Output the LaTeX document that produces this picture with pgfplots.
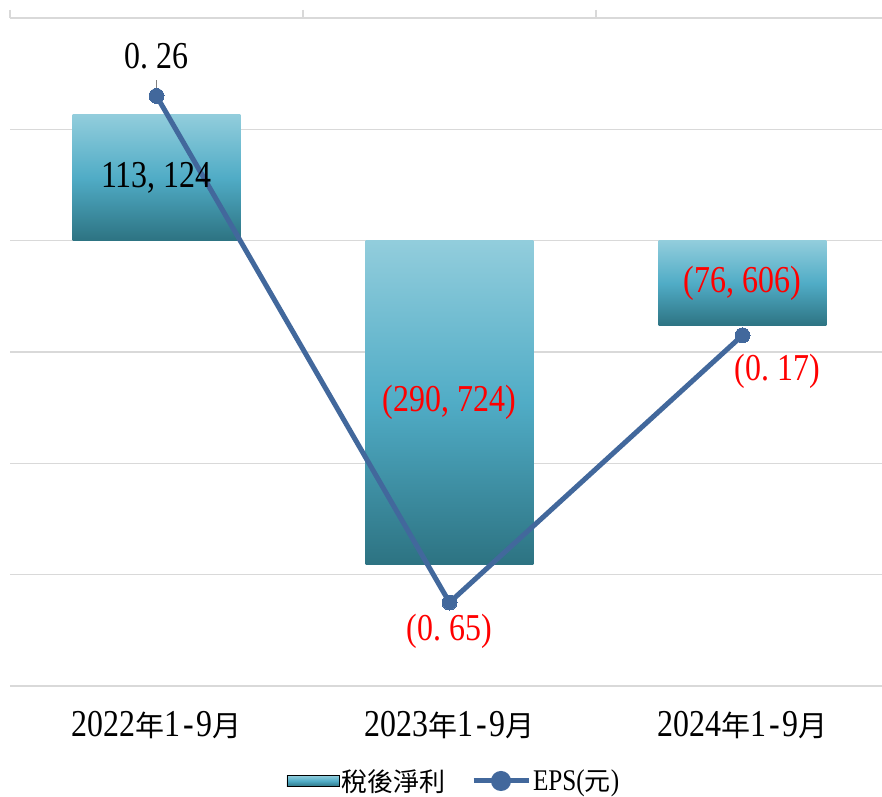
\documentclass[border=0pt]{standalone}
\usepackage{fontspec}
\setmainfont{Liberation Serif}[FakeStretch=0.84]
\newfontfamily\cjk{Noto Sans CJK TC}
\usepackage{pgfplots}
\pgfplotsset{compat=1.18}
\definecolor{barTop}{RGB}{146,205,220}
\definecolor{barMid}{RGB}{80,172,198}
\definecolor{barBot}{RGB}{45,115,130}
\definecolor{epsline}{RGB}{66,104,156}
\definecolor{gridc}{RGB}{217,217,217}
\newcommand{\lbl}{\fontsize{38}{42}\selectfont}
\newcommand{\hc}[1]{\makebox[16pt][l]{#1}}
\newcommand{\lp}{\makebox[16pt][r]{(}}
\newcommand{\rp}{\makebox[16pt][l]{)}}
\newcommand{\cat}[1]{#1{\fontsize{29}{32}\cjk 年}1\makebox[16pt]{-}9{\fontsize{29}{32}\cjk 月}}
\pgfplotsset{barsty/.style={ybar, bar shift=0pt, bar width=0.573, draw=none,
  top color=barTop, bottom color=barBot, middle color=barMid}}
\begin{document}
\begin{tikzpicture}[x=1pt,y=1pt]
\begin{axis}[
  at={(10pt,110pt)}, anchor=south west,
  width=879pt, height=668pt, scale only axis,
  xmin=-0.5, xmax=2.5, ymin=-400000, ymax=200000,
  ytick={-400000,-300000,-200000,-100000,0,100000,200000},
  yticklabels={}, ymajorgrids,
  grid style={gridc, line width=1.5pt},
  y tick style={draw=none},
  axis line style={draw=none},
  xtick={-0.5,0.5,1.5,2.5}, xticklabels={},
  xtick pos=right, xticklabel pos=left, tick align=outside, major tick length=8pt,
  x tick style={gridc, line width=1.5pt},
  clip=false,
]
\addplot[barsty] coordinates {(0,113124)};
\addplot[barsty] coordinates {(1,-290724)};
\addplot[barsty] coordinates {(2,-76606)};
\end{axis}
\begin{axis}[
  at={(10pt,110pt)}, anchor=south west,
  width=879pt, height=668pt, scale only axis,
  xmin=-0.5, xmax=2.5, ymin=-0.8, ymax=0.4,
  ytick=\empty, axis line style={draw=none},
  xtick={0,1,2},
  xticklabels={\cat{2022},\cat{2023},\cat{2024}},
  major tick length=0pt,
  xticklabel style={font=\lbl, anchor=center, yshift=-39pt},
  clip=false,
  legend columns=2,
  legend cell align=left,
  legend style={draw=none, fill=none, at={(0.505,-0.1422)}, anchor=center,
    font=\fontsize{30}{30}\selectfont,
    nodes={inner ysep=1pt},
    /tikz/every even column/.append style={column sep=24pt}},
]
\addlegendimage{legend image code/.code={
  \fill[top color=barTop, bottom color=barBot, middle color=barMid] (0pt,-5.5pt) rectangle (52pt,5.5pt);}}
\addlegendentry{{\fontsize{26}{28}\cjk 稅後淨利}}
\draw[gray, line width=1pt] (axis cs:0,0.262) -- (axis cs:0,0.288);
\addplot[epsline, line width=5pt, mark=*, mark size=7.5pt,
  mark options={fill=epsline, draw=epsline, line width=0pt},
  legend image code/.code={
    \draw[epsline, line width=5pt] (0pt,0pt) -- (55pt,0pt);
    \fill[epsline] (27.5pt,0pt) circle (7.5pt);}]
  coordinates {(0,0.26) (1,-0.65) (2,-0.17)};
\addlegendentry{EPS({\fontsize{26}{28}\cjk 元})}
\node[font=\lbl] at (axis cs:0,0.1131) {113\hc{,}124};
\node[font=\lbl, text=red] at (axis cs:1,-0.2907) {\lp 290\hc{,}724\rp};
\node[font=\lbl, text=red] at (axis cs:2,-0.0766) {\lp 76\hc{,}606\rp};
\node[font=\lbl] at (axis cs:0,0.3306) {0\hc{.}26};
\node[font=\lbl, text=red] at (axis cs:1,-0.7026) {\lp 0\hc{.}65\rp};
\node[font=\lbl, text=red] at (axis cs:2.118,-0.2354) {\lp 0\hc{.}17\rp};
\end{axis}
\pgfresetboundingbox
\path[use as bounding box] (0pt,0pt) rectangle (882pt,796pt);
\end{tikzpicture}
\end{document}
